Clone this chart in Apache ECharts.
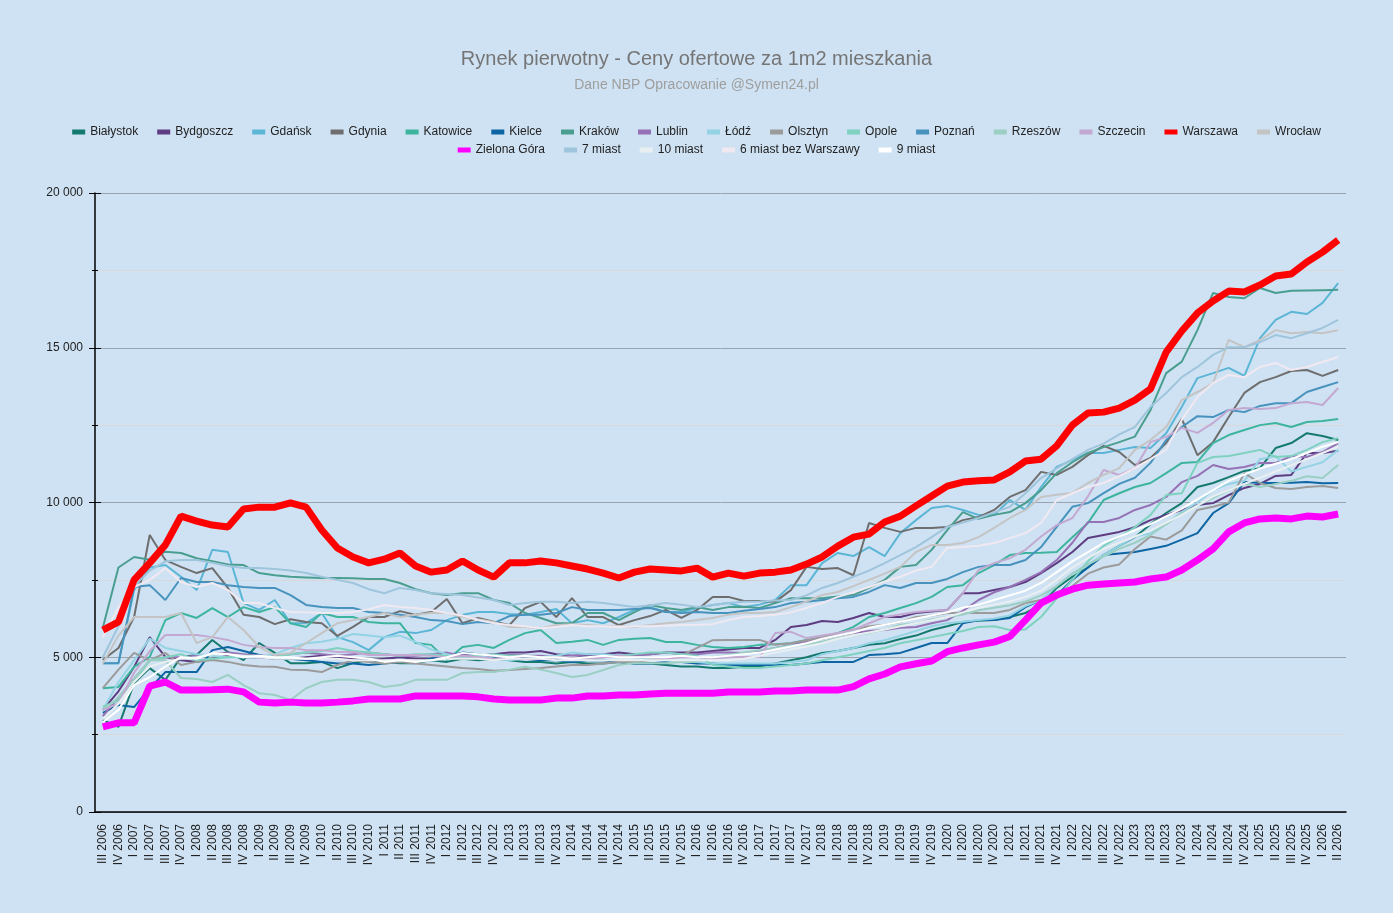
<!DOCTYPE html>
<html>
<head>
<meta charset="utf-8">
<title>Rynek pierwotny</title>
<script src="https://cdn.jsdelivr.net/npm/echarts@6/dist/echarts.min.js"></script>
<style>
  html, body { margin: 0; padding: 0; background: #cfe2f3; }
  #chart { width: 1393px; height: 913px; }
</style>
</head>
<body>
<div id="chart"></div>
<script>
let quarters = [
  'III 2006','IV 2006',
  'I 2007','II 2007','III 2007','IV 2007',
  'I 2008','II 2008','III 2008','IV 2008',
  'I 2009','II 2009','III 2009','IV 2009',
  'I 2010','II 2010','III 2010','IV 2010',
  'I 2011','II 2011','III 2011','IV 2011',
  'I 2012','II 2012','III 2012','IV 2012',
  'I 2013','II 2013','III 2013','IV 2013',
  'I 2014','II 2014','III 2014','IV 2014',
  'I 2015','II 2015','III 2015','IV 2015',
  'I 2016','II 2016','III 2016','IV 2016',
  'I 2017','II 2017','III 2017','IV 2017',
  'I 2018','II 2018','III 2018','IV 2018',
  'I 2019','II 2019','III 2019','IV 2019',
  'I 2020','II 2020','III 2020','IV 2020',
  'I 2021','II 2021','III 2021','IV 2021',
  'I 2022','II 2022','III 2022','IV 2022',
  'I 2023','II 2023','III 2023','IV 2023',
  'I 2024','II 2024','III 2024','IV 2024',
  'I 2025','II 2025','III 2025','IV 2025',
  'I 2026','II 2026'
];

let bialystok = [2970,2750,4170,4650,4270,5010,5070,5560,5170,4910,
  5460,5140,4810,4810,4850,4650,4810,4900,4850,4810,
  4810,4900,4850,4950,4900,4950,4900,4850,4850,4800,
  4850,4800,4800,4850,4800,4800,4750,4700,4700,4650,
  4650,4690,4700,4800,4900,5000,5140,5200,5300,5400,
  5450,5590,5700,5880,6000,6140,6180,6200,6300,6430,
  6690,7240,7600,7900,8300,8600,8880,9300,9660,9980,
  10500,10630,10820,11020,11110,11760,11920,12240,12150,12020];
let bydgoszcz = [3300,3900,4690,5650,5010,4900,4850,4950,5050,5000,
  5000,4950,4950,5000,5050,5000,4950,4900,4950,5000,
  4950,4950,5050,5100,5050,5100,5150,5150,5200,5100,
  5050,5050,5100,5150,5100,5100,5150,5150,5150,5200,
  5250,5300,5300,5560,5980,6040,6170,6140,6270,6430,
  6300,6300,6430,6480,6530,7070,7070,7170,7270,7430,
  7720,8040,8400,8850,8950,9050,9200,9430,9600,9760,
  9920,9980,10240,10470,10600,10860,10890,11600,11600,11670];
let gdansk = [4810,4810,7170,7900,7980,7600,7170,8470,8400,6750,
  6530,6850,6100,6100,6430,5650,5490,5230,5650,5820,
  5780,5880,6200,6370,6460,6460,6400,6370,6460,6560,
  6100,6200,6100,6300,6530,6620,6460,6460,6590,6690,
  6750,6620,6700,6850,7330,7330,8040,8370,8270,8560,
  8270,9010,9430,9820,9890,9760,9600,9600,10080,9760,
  10500,11150,11370,11600,11600,11700,11790,11760,12240,13090,
  14020,14180,14350,14090,15310,15900,16160,16090,16450,17090];
let gdynia = [4910,5300,6300,8950,8140,7920,7720,7880,7240,6370,
  6300,6070,6230,6140,6100,5690,5980,6300,6300,6490,
  6370,6460,6880,6100,6270,6150,6040,6590,6790,6300,
  6910,6300,6300,6040,6200,6330,6530,6270,6530,6950,
  6950,6820,6820,6790,7170,7920,7850,7880,7650,9340,
  9180,9050,9180,9180,9210,9430,9530,9760,10180,10400,
  10990,10890,11150,11530,11830,11630,11210,11440,11920,12700,
  11530,11950,12760,13540,13890,14050,14250,14280,14090,14280];
let katowice = [4000,4040,4690,5010,6200,6430,6270,6590,6300,6620,
  6460,6620,6100,5980,6430,6300,6300,6140,6100,6100,
  5460,5400,4910,5330,5400,5300,5560,5780,5880,5460,
  5500,5560,5400,5560,5600,5620,5490,5490,5400,5330,
  5300,5330,5400,5420,5450,5560,5650,5780,5980,6300,
  6430,6590,6750,6950,7270,7330,7720,7980,8300,8370,
  8380,8400,8880,9340,10080,10300,10500,10630,10950,11280,
  11310,11920,12180,12340,12500,12570,12440,12600,12630,12700];
let kielce = [3200,3460,3390,4000,4520,4520,4520,5230,5330,5200,
  5070,4950,4950,4900,4850,4800,4800,4750,4800,4850,
  4850,4950,5050,5150,5100,5000,5000,4950,4900,4900,
  4850,4900,4900,4850,4800,4800,4850,4850,4800,4800,
  4750,4750,4750,4750,4750,4800,4850,4850,4850,5070,
  5100,5140,5300,5460,5460,6100,6200,6200,6270,6620,
  6850,7000,7500,7900,8300,8350,8400,8500,8600,8800,
  9010,9660,9980,10660,10630,10630,10640,10660,10620,10630];
let krakow = [5950,7900,8240,8150,8410,8370,8200,8100,8000,7980,
  7720,7650,7600,7580,7560,7560,7550,7530,7530,7400,
  7200,7070,7010,7070,7070,6850,6750,6430,6270,6100,
  6100,6430,6430,6200,6460,6690,6590,6530,6620,6530,
  6620,6630,6590,6750,6910,6910,6910,6960,7010,7240,
  7500,7920,7980,8470,9110,9690,9470,9600,9690,9980,
  10400,10950,11300,11600,11790,11950,12130,12990,14180,14550,
  15570,16770,16640,16600,16930,16770,16840,16850,16860,16870];
let lublin = [3100,3700,4300,4900,5000,5000,5050,5100,5150,5100,
  5050,5050,5100,5150,5100,5050,5100,5150,5100,5050,
  5050,5100,5150,5050,5000,5050,5100,5050,5050,5000,
  5050,5100,5100,5050,5050,5100,5150,5100,5100,5150,
  5150,5140,5200,5300,5400,5500,5600,5700,5780,5850,
  5880,5950,5980,6100,6200,6500,6850,7100,7270,7500,
  7750,8140,8700,9370,9370,9500,9760,9920,10180,10660,
  10860,11210,11080,11150,11280,11280,11500,11470,11630,11920];
let lodz = [3300,4200,4900,5600,5300,5200,5100,5050,5000,5000,
  5000,5100,5300,5450,5500,5600,5750,5700,5650,5700,
  5500,5250,5100,5000,5050,4950,4900,4950,5000,5050,
  5150,5100,5100,5050,5000,4950,4900,4850,4850,4800,
  4800,4800,4800,4800,4850,4900,5100,5200,5300,5450,
  5550,5700,5850,6000,6100,6150,6200,6250,6350,6650,
  6850,7300,7700,8000,8300,8600,8900,9000,9300,9700,
  10000,10400,10600,10700,11400,11500,11000,11150,11300,11700];
let olsztyn = [4000,4600,5140,4900,5140,4750,4850,4910,4850,4750,
  4700,4690,4600,4590,4520,4750,4900,4850,4800,4850,
  4800,4750,4700,4650,4620,4560,4590,4620,4650,4700,
  4750,4750,4800,4850,4850,4910,4950,5050,5300,5550,
  5560,5560,5560,5400,5450,5550,5650,5780,5900,6000,
  6050,6140,6300,6350,6430,6430,6430,6430,6530,6750,
  6850,6910,7300,7700,7900,8000,8500,8900,8800,9100,
  9760,9860,10000,10950,10630,10470,10440,10500,10530,10470];
let opole = [3400,3600,4200,4900,5000,5100,4900,4950,5000,5050,
  5050,5000,5100,5150,5200,5300,5200,5150,5100,5050,
  5100,5100,5050,5000,5050,5100,5050,5050,5000,5000,
  5000,4950,5000,5050,5100,5150,5150,5100,5050,4750,
  4700,4650,4650,4700,4750,4800,4900,5000,5100,5200,
  5300,5450,5550,5650,5750,5850,5980,6000,5880,5900,
  6300,6900,7500,8100,8600,8900,9200,9600,10240,10300,
  11280,11470,11500,11600,11700,11470,11500,11700,11950,12080];
let poznan = [4810,4810,7270,7330,6850,7560,7430,7430,7330,7270,
  7240,7240,7010,6690,6620,6590,6590,6460,6430,6370,
  6300,6200,6170,6070,6140,6100,6330,6370,6370,6430,
  6620,6530,6530,6530,6560,6590,6460,6430,6460,6430,
  6430,6500,6560,6620,6750,6790,6850,6910,6950,7110,
  7330,7240,7400,7400,7530,7750,7920,7980,7980,8140,
  8560,9210,9860,9980,10300,10600,10800,11280,12020,12440,
  12790,12760,12990,12920,13120,13210,13210,13570,13730,13890];
let rzeszow = [3300,3700,4300,4900,4900,4330,4300,4200,4430,4100,
  3840,3780,3620,4000,4200,4270,4270,4200,4040,4100,
  4270,4270,4270,4490,4520,4520,4600,4690,4600,4490,
  4360,4430,4590,4750,4810,4810,4810,4850,4850,5000,
  5070,5150,5230,5300,5380,5420,5500,5620,5700,5780,
  5900,6050,6100,6220,6300,6380,6520,6600,6680,6800,
  7000,7300,7700,8000,8250,8500,8700,8950,9300,9650,
  9900,10150,10400,10600,10500,10600,10700,10850,10790,11210];
let szczecin = [3300,3500,4500,5200,5720,5720,5720,5650,5560,5400,
  5330,5300,5300,5230,5230,5170,5170,5070,5070,5070,
  5070,5050,5000,5050,5000,4950,5000,4950,4950,5000,
  5000,4950,5000,5050,5000,5000,4950,5000,5000,4950,
  5000,5010,5010,5780,5820,5620,5700,5780,5880,6100,
  6300,6380,6460,6500,6530,7070,7820,8040,8200,8470,
  8900,9270,9500,10200,11050,10890,11110,11950,12120,12410,
  12250,12570,12990,13050,13020,13050,13210,13250,13150,13700];
let warszawa = [5880,6140,7500,8050,8630,9560,9400,9270,9210,9790,
  9850,9850,9990,9850,9110,8530,8240,8050,8170,8370,
  7950,7750,7820,8110,7820,7590,8050,8050,8110,8050,
  7950,7850,7720,7560,7750,7850,7820,7790,7880,7590,
  7720,7620,7720,7750,7820,8010,8240,8590,8880,8980,
  9370,9560,9890,10210,10530,10660,10700,10730,10990,11340,
  11400,11830,12500,12890,12920,13050,13310,13670,14860,15540,
  16120,16510,16830,16800,17030,17320,17380,17770,18090,18480];
let wroclaw = [4800,5700,6300,6300,6300,6430,5460,5650,6300,5880,
  5330,5070,5140,5460,5780,6100,6200,6300,6430,6300,
  6370,6430,6430,6300,6230,6140,5980,5980,5940,6040,
  6070,6040,6010,6010,5980,6040,6100,6140,6200,6270,
  6370,6430,6430,6460,6620,6800,7010,7110,7300,7500,
  7700,7920,8400,8630,8630,8690,8880,9180,9500,9760,
  10180,10250,10310,10630,10890,11110,11700,12020,12440,13310,
  13570,13860,15250,15020,15250,15570,15470,15510,15470,15570];
let zielonaGora = [2750,2880,2880,4070,4200,3940,3940,3950,3970,3880,
  3550,3520,3550,3520,3520,3550,3590,3650,3650,3650,
  3750,3750,3750,3750,3720,3650,3620,3620,3620,3680,
  3680,3750,3750,3780,3780,3810,3840,3840,3840,3840,
  3880,3880,3880,3910,3910,3940,3940,3940,4050,4300,
  4460,4690,4790,4880,5180,5300,5400,5490,5670,6200,
  6750,7010,7200,7330,7370,7400,7430,7530,7590,7820,
  8140,8500,9050,9340,9470,9500,9470,9560,9530,9630];
let miast7 = [5000,6000,7300,7800,8100,8140,8140,8050,7950,7880,
  7880,7850,7800,7720,7600,7500,7400,7200,7070,7240,
  7170,7070,7040,7010,6930,6850,6690,6750,6790,6790,
  6750,6790,6750,6690,6620,6680,6750,6700,6620,6680,
  6750,6790,6800,6830,6850,7000,7240,7400,7600,7800,
  8040,8300,8560,8880,9210,9350,9500,9680,9860,10300,
  10790,11100,11400,11700,11900,12200,12440,13090,13540,14050,
  14380,14770,15020,15020,15180,15410,15310,15470,15640,15900];
let miast10 = [3000,3500,4200,4700,4850,4950,5000,5100,5100,5050,
  5000,4950,4950,4950,4950,4950,4900,4900,4900,4900,
  4900,4900,4950,4950,4950,4900,4950,4950,4950,4900,
  4900,4900,4900,4900,4900,4900,4900,4900,4900,4900,
  4900,4950,5050,5150,5250,5350,5450,5600,5700,5800,
  5900,6000,6100,6200,6300,6450,6600,6700,6800,6950,
  7150,7500,7900,8200,8500,8700,8900,9100,9350,9600,
  9900,10200,10400,10600,10800,11000,11200,11400,11600,11800];
let miast6bezW = [5650,6620,7270,7500,7880,7430,7270,7400,7170,6750,
  6750,6590,6460,6450,6430,6430,6460,6550,6690,6620,
  6590,6530,6430,6350,6200,6100,6040,6000,5940,5980,
  6040,6000,6000,5980,6000,6000,6020,6040,6050,6070,
  6200,6300,6330,6370,6450,6590,6750,6950,7100,7270,
  7450,7600,7800,7920,8530,8560,8600,8690,8850,9010,
  9340,10080,10300,10500,10630,10850,11110,11400,11700,12670,
  13410,13860,14120,14050,14380,14510,14280,14380,14540,14700];
let miast9 = [2900,3300,4100,4360,4700,5010,4950,5140,5100,5000,
  5050,5000,5000,4950,5000,5050,5000,4950,4850,4900,
  4850,4900,5000,5140,5100,5050,5000,5050,5000,5000,
  4950,5000,5050,5000,5000,5000,5000,5050,5000,5000,
  5050,5100,5150,5250,5350,5450,5600,5700,5800,5950,
  6050,6150,6250,6350,6450,6600,6700,6850,7000,7150,
  7400,7750,8100,8400,8700,8900,9100,9300,9550,9800,
  10100,10400,10700,10900,11100,11250,11400,11600,11800,11950];

let seriesNames = ['Białystok','Bydgoszcz','Gdańsk','Gdynia','Katowice','Kielce','Kraków','Lublin','Łódź',
  'Olsztyn','Opole','Poznań','Rzeszów','Szczecin','Warszawa','Wrocław','Zielona Góra',
  '7 miast','10 miast','6 miast bez Warszawy','9 miast'];
let seriesData = [bialystok, bydgoszcz, gdansk, gdynia, katowice, kielce, krakow, lublin, lodz,
  olsztyn, opole, poznan, rzeszow, szczecin, warszawa, wroclaw, zielonaGora,
  miast7, miast10, miast6bezW, miast9];
let seriesColors = ['#157a6e','#5e3c82','#5bb6d6','#6e6e6e','#3db59e','#0e65a3','#4a9e90','#9572b5','#94d3e3',
  '#9b9b9b','#7fd1c0','#4793bd','#9bcfc3','#c3a9d1','#ff0000','#c4c4c4','#ff00ff',
  '#9fc5dc','#e9eff1','#f0e9f1','#ffffff'];

let font = 'Liberation Sans, Arial, sans-serif';

function fmt(v) {
  return String(v).replace(/\B(?=(\d{3})+(?!\d))/g, ' ');
}

let series = seriesNames.map(function(name, i) {
  let thick = name === 'Warszawa' || name === 'Zielona Góra';
  return {
    name: name,
    type: 'line',
    data: seriesData[i],
    showSymbol: false,
    symbol: 'none',
    color: seriesColors[i],
    lineStyle: { width: thick ? 7 : 2, color: seriesColors[i] },
    z: thick ? 3 : 2,
    emphasis: { disabled: true },
    animation: false
  };
});

let legendBase = {
  left: 'center',
  orient: 'horizontal',
  icon: 'rect',
  itemWidth: 13,
  itemHeight: 5,
  itemGap: 19,
  textStyle: { fontSize: 12, color: '#222', fontFamily: font }
};

// the reference ticks cross the axis line, so a second pair of axes draws the inner half
let option = {
  backgroundColor: '#cfe2f3',
  animation: false,
  title: {
    text: 'Rynek pierwotny - Ceny ofertowe za 1m2 mieszkania',
    subtext: 'Dane NBP Opracowanie @Symen24.pl',
    left: 'center',
    top: 44,
    itemGap: 9,
    textStyle: { fontSize: 20, fontWeight: 'normal', color: '#757575', fontFamily: font },
    subtextStyle: { fontSize: 14, color: '#9e9e9e', fontFamily: font }
  },
  legend: [
    Object.assign({}, legendBase, { top: 121, data: seriesNames.slice(0, 16) }),
    Object.assign({}, legendBase, { top: 139, data: seriesNames.slice(16) })
  ],
  grid: { left: 95, right: 47, top: 193, bottom: 101, containLabel: false },
  xAxis: [{
    type: 'category',
    data: quarters,
    boundaryGap: true,
    axisLine: { lineStyle: { color: '#000', width: 1.5 } },
    axisTick: { alignWithLabel: true, length: 6, lineStyle: { color: '#000' } },
    axisLabel: { interval: 0, rotate: 90, fontSize: 12, color: '#222', fontFamily: font, margin: 12 },
    splitLine: { show: false }
  }, {
    type: 'category',
    data: quarters,
    position: 'bottom',
    boundaryGap: true,
    axisLine: { show: false },
    axisTick: { inside: true, alignWithLabel: true, length: 6, lineStyle: { color: '#000' } },
    axisLabel: { show: false },
    splitLine: { show: false }
  }],
  yAxis: [{
    type: 'value',
    min: 0,
    max: 20000,
    interval: 5000,
    axisLine: { show: true, lineStyle: { color: '#000', width: 1.5 } },
    axisTick: { show: true, length: 6, lineStyle: { color: '#000' } },
    minorTick: { show: true, splitNumber: 2, length: 3, lineStyle: { color: '#000' } },
    axisLabel: { fontSize: 12, color: '#222', fontFamily: font, formatter: fmt, margin: 12 },
    splitLine: { show: true, lineStyle: { color: '#98a4b0', width: 1 } },
    minorSplitLine: { show: true, lineStyle: { color: '#d9d9d9', width: 1 } }
  }, {
    type: 'value',
    position: 'left',
    min: 0,
    max: 20000,
    interval: 5000,
    axisLine: { show: false },
    axisTick: { show: true, inside: true, length: 6, lineStyle: { color: '#000' } },
    minorTick: { show: true, splitNumber: 2, length: 3, lineStyle: { color: '#000' } },
    axisLabel: { show: false },
    splitLine: { show: false },
    minorSplitLine: { show: false }
  }],
  series: series
};

let myChart = echarts.init(document.getElementById('chart'));
myChart.setOption(option);
</script>
</body>
</html>
